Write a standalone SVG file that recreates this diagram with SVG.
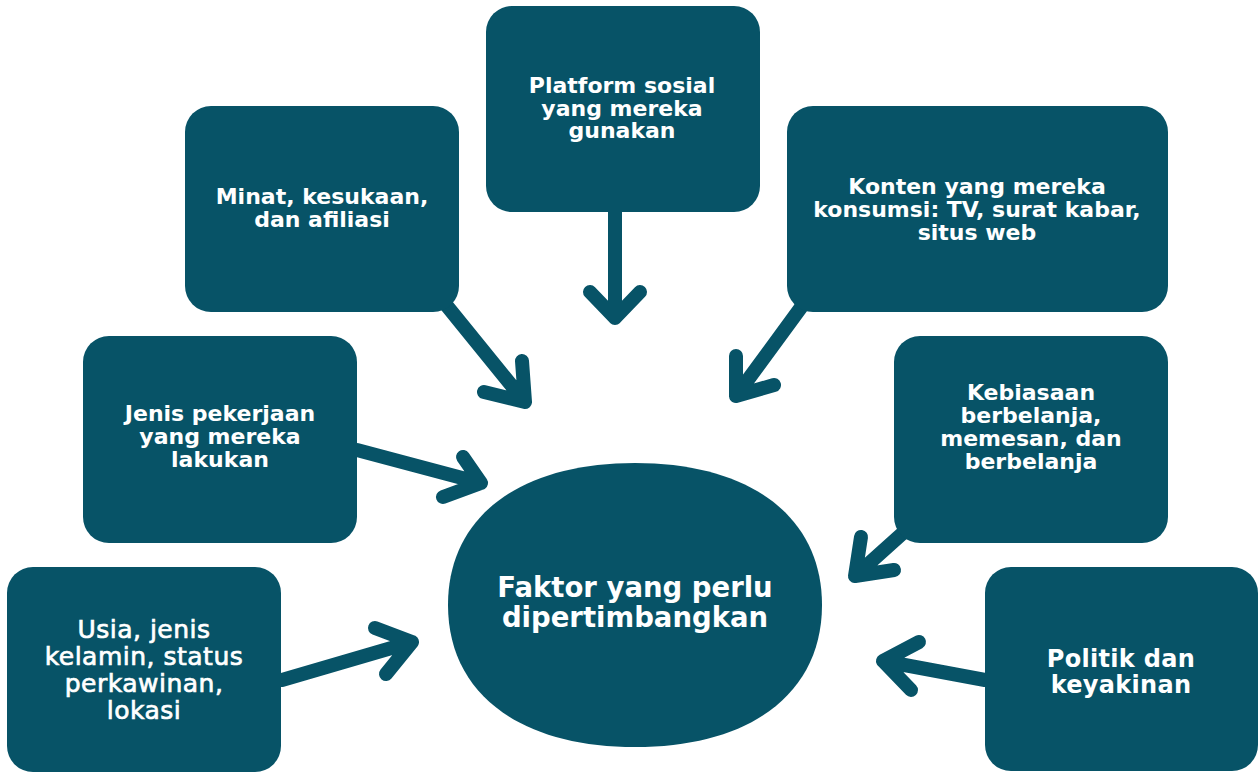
<svg xmlns="http://www.w3.org/2000/svg" width="1260" height="772" viewBox="0 0 1260 772">
  <style>
    .box { fill: #075367; }
    .lbl { fill: #ffffff; font-family: "DejaVu Sans", "Liberation Sans", sans-serif; font-weight: 700; text-anchor: middle; }
    .s { font-size: 22px; }
    .m { font-size: 25px; font-weight: 400; letter-spacing: 0.5px; stroke: #ffffff; stroke-width: 0.7px; }
    .l { font-size: 24px; letter-spacing: 0.3px; }
    .xl { font-size: 27.5px; }
    .arrow { fill: none; stroke: #075367; stroke-width: 14; stroke-linecap: round; stroke-linejoin: round; }
  </style>
  <rect width="1260" height="772" fill="#ffffff"/>

  <!-- connectors: shaft plus chevron head, all pointing toward the centre -->
  <g id="connectors">
    <path class="arrow" d="M615 212 V318 M590 292 L615 318 L640 292"/>
    <path class="arrow" d="M447 306 L525 402 M522 361 L525 402 L484 392"/>
    <path class="arrow" d="M802 306 L736 396 M736 356 L736 396 L774 385"/>
    <path class="arrow" d="M357 450 L481 483 M463 457 L481 483 L443 497"/>
    <path class="arrow" d="M904 532 L855 576 M861 537 L855 576 L894 570"/>
    <path class="arrow" d="M282 680 L412 642 M375 628 L412 642 L386 674"/>
    <path class="arrow" d="M985 680 L883 661 M919 642 L883 661 L911 690"/>
  </g>

  <g id="node-platform">
    <rect class="box" x="486" y="6" width="274" height="206" rx="26"/>
    <text class="lbl s" x="622" y="93">Platform sosial<tspan x="622" dy="22.5">yang mereka</tspan><tspan x="622" dy="22.5">gunakan</tspan></text>
  </g>

  <g id="node-minat">
    <rect class="box" x="185" y="106" width="274" height="206" rx="26"/>
    <text class="lbl s" x="322" y="204">Minat, kesukaan,<tspan x="322" dy="23">dan afiliasi</tspan></text>
  </g>

  <g id="node-konten">
    <rect class="box" x="787" y="106" width="381" height="206" rx="26"/>
    <text class="lbl s" x="977" y="194">Konten yang mereka<tspan x="977" dy="23">konsumsi: TV, surat kabar,</tspan><tspan x="977" dy="23">situs web</tspan></text>
  </g>

  <g id="node-jenis">
    <rect class="box" x="83" y="336" width="274" height="207" rx="26"/>
    <text class="lbl s" x="220" y="421">Jenis pekerjaan<tspan x="220" dy="23">yang mereka</tspan><tspan x="220" dy="23">lakukan</tspan></text>
  </g>

  <g id="node-kebiasaan">
    <rect class="box" x="894" y="336" width="274" height="207" rx="26"/>
    <text class="lbl s" x="1031" y="400">Kebiasaan<tspan x="1031" dy="23">berbelanja,</tspan><tspan x="1031" dy="23">memesan, dan</tspan><tspan x="1031" dy="23">berbelanja</tspan></text>
  </g>

  <g id="node-usia">
    <rect class="box" x="7" y="567" width="274" height="205" rx="26"/>
    <text class="lbl m" x="144" y="638">Usia, jenis<tspan x="144" dy="27">kelamin, status</tspan><tspan x="144" dy="27">perkawinan,</tspan><tspan x="144" dy="27">lokasi</tspan></text>
  </g>

  <g id="node-politik">
    <rect class="box" x="985" y="567" width="273" height="204" rx="26"/>
    <text class="lbl l" x="1121" y="667">Politik dan<tspan x="1121" dy="25.5">keyakinan</tspan></text>
  </g>

  <g id="node-faktor">
    <path class="box" d="M448 605 C448 517 519 463 635 463 C751 463 822 517 822 605 C822 693 751 747 635 747 C519 747 448 693 448 605 Z"/>
    <text class="lbl xl" x="635" y="597">Faktor yang perlu<tspan x="635" dy="30">dipertimbangkan</tspan></text>
  </g>
</svg>
